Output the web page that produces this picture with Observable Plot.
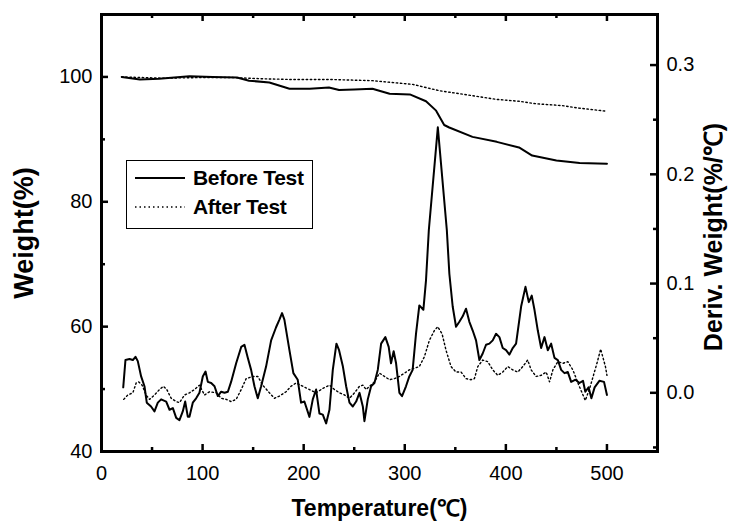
<!DOCTYPE html>
<html>
<head>
<meta charset="utf-8">
<script src="https://cdn.jsdelivr.net/npm/d3@7"></script>
<script src="https://cdn.jsdelivr.net/npm/@observablehq/plot@0.6"></script>
<style>
  body { margin: 0; background: #fff; }
  #wrap { position: relative; width: 731px; height: 528px; font-family: "Liberation Sans", Arial, sans-serif; }
  #legend { position: absolute; left: 126px; top: 160px; width: 187px; height: 69px; border: 1.5px solid #000; background: #fff; box-sizing: border-box; }
  #legend .row { position: absolute; left: 8px; display: flex; align-items: center; font-weight: bold; font-size: 21px; color: #000; letter-spacing: -0.3px; }
</style>
</head>
<body>
<div id="wrap">
  <div id="chart"></div>
  <div id="legend">
    <div class="row" style="top:5px"><svg width="58" height="10"><line x1="0" x2="50" y1="5" y2="5" stroke="#000" stroke-width="2"/></svg><span>Before Test</span></div>
    <div class="row" style="top:34px"><svg width="58" height="10"><line x1="0" x2="50" y1="5" y2="5" stroke="#000" stroke-width="1.5" stroke-dasharray="1.5,3"/></svg><span>After Test</span></div>
  </div>
</div>
<script>
// ---- data ----
const seriesNames = ["Before Test", "After Test"];

const beforeWeightT = [20,38,57,87,110,134,146,166,186,206,225,235,250,268,285,305,321,331,339,344,367,391,413,426,450,473,500];
const beforeWeight  = [100,99.6,99.7,100.1,100.0,99.9,99.4,99.1,98.1,98.1,98.3,97.9,98.0,98.1,97.3,97.2,96.1,94.6,92.3,91.9,90.4,89.6,88.7,87.4,86.6,86.2,86.1];

const afterWeightT = [20,60,100,130,160,186,225,268,308,334,367,391,413,430,456,470,500];
const afterWeight  = [100,99.8,99.9,99.9,99.7,99.6,99.6,99.4,98.8,97.8,97.0,96.4,96.1,95.7,95.4,95.05,94.5];

const beforeDerivT = [21.5,23.7,27.7,31,33.6,35.9,39.2,42.5,44.8,49,52.4,55.7,59,64,67.3,70.6,73.9,77.1,80.4,82.8,85.4,87,90.3,93.6,96.9,100.2,102.9,105.2,108.5,111.8,115.1,118.4,121.7,125,128.2,133.2,138.2,141.4,144.7,148,151.3,154.6,157.9,162.8,167.8,172.7,176,178.6,180.9,185.9,189.8,194.1,197.4,200.7,205.7,209,212.3,215.6,218.9,222.2,225.5,228.8,232.4,235,238.8,242,245.3,248.6,251.9,255.2,258.5,260.1,263.4,266.7,270,273.3,276.6,280.8,284.1,286.4,289,291.4,294.7,297.3,301.2,304.5,307.8,311.1,314.4,318.4,321,323.8,332.7,341.6,344.1,347.4,350.7,354,357.3,360.6,363.9,367.2,370.5,373.8,377.1,380.4,383.7,387,390.3,393.6,396.9,400.2,403.5,406.8,410.1,415.1,419.4,422.7,425.6,428.3,431.6,434.9,438.2,441.5,444.8,448.1,451.4,454.7,458,461.3,464.6,468.9,472.8,476.3,478.6,481.8,484.6,487.8,492.5,497.1,500];
const beforeDeriv  = [0.005,0.030,0.031,0.030,0.033,0.029,0.015,0.006,-0.009,-0.0125,-0.017,-0.009,-0.006,-0.008,-0.0155,-0.014,-0.023,-0.025,-0.017,-0.008,-0.022,-0.022,-0.009,-0.005,0.000,0.015,0.0195,0.010,0.009,0.006,-0.003,0.001,0.000,0.001,0.010,0.027,0.042,0.044,0.032,0.021,0.006,-0.005,0.006,0.024,0.048,0.060,0.067,0.073,0.067,0.039,0.018,0.012,-0.009,-0.008,-0.022,-0.006,0.003,-0.019,-0.020,-0.028,-0.0155,0.021,0.045,0.039,0.024,0.006,-0.009,-0.0125,-0.008,0.000,-0.0125,-0.026,-0.006,0.006,0.009,0.021,0.045,0.051,0.042,0.027,0.038,0.027,0.000,-0.003,0.006,0.015,0.021,0.054,0.080,0.076,0.103,0.149,0.243,0.149,0.109,0.079,0.0605,0.065,0.070,0.077,0.065,0.057,0.048,0.030,0.036,0.044,0.045,0.048,0.054,0.051,0.041,0.039,0.035,0.041,0.045,0.079,0.097,0.083,0.089,0.076,0.057,0.041,0.051,0.039,0.045,0.032,0.030,0.021,0.018,0.019,0.010,0.012,0.009,0.011,0.001,0.005,-0.005,0.005,0.011,0.010,-0.002];

const afterDerivT = [22,26,31,34.3,36.9,40.2,44.1,47.5,52.4,57.4,61.3,64.6,68.9,73.9,77.1,82.1,87,92,96.9,101.9,106.9,113.4,118.4,123.4,128.2,133.2,138.2,143.1,149.7,154.6,159.5,166.1,171.1,176,182.6,187.5,192.5,199.1,205.7,212.3,218.9,225.5,230.5,235.4,240.4,245.3,250.3,255.2,258.5,261.8,265.1,270,275,279.9,284.9,289.8,294.7,299.7,304.5,309.5,314.4,319.4,324.3,329.3,332.6,336.9,340.8,345.8,350.7,355.7,360.6,365.6,368.9,372.2,377.1,382.1,387,392,396.9,401.9,406.8,411.8,416.7,421.6,425,429.9,434.9,439.9,443.2,446.5,451.4,456.4,461.3,466.3,471.7,478.6,483.2,490.1,493.8,498.5,500];
const afterDeriv  = [-0.006,-0.002,0.000,0.009,0.010,0.007,-0.002,-0.006,-0.002,0.003,0.006,0.003,-0.005,-0.008,-0.009,-0.002,0.000,0.003,0.007,-0.002,0.001,0.000,-0.005,-0.006,-0.008,-0.006,0.003,0.013,0.015,0.015,0.007,0.000,-0.005,-0.003,0.001,0.006,0.009,0.006,0.003,0.000,0.004,0.007,0.003,0.000,-0.002,-0.005,0.000,0.006,0.007,0.003,0.006,0.010,0.018,0.015,0.012,0.013,0.015,0.018,0.021,0.0225,0.024,0.033,0.048,0.057,0.0605,0.054,0.039,0.024,0.019,0.019,0.013,0.012,0.013,0.024,0.030,0.0285,0.021,0.016,0.019,0.024,0.021,0.019,0.024,0.030,0.021,0.015,0.016,0.019,0.010,0.021,0.0285,0.027,0.0285,0.021,0.008,-0.007,0.005,0.027,0.040,0.024,0.016];

const xMajorTicks = [0,100,200,300,400,500];
const xMinorTicks = [50,150,250,350,450];
const yMajorTicks = [40,60,80,100];
const yMinorTicks = [50,70,90];
const derivMajorTicks = [0.0,0.1,0.2,0.3];
const derivMinorTicks = [-0.05,0.05,0.15,0.25];

// ---- layout ----
const W = 731, H = 528;
const mL = 101, mR = 74, mT = 14, mB = 77;
const pw = W - mL - mR, ph = H - mT - mB;
// map derivative (right axis) to weight (left axis) scale
const toLeft = d => 49.4 + 175 * d;
const fromLeft = v => (v - 49.4) / 175;

const rows = (T, V, f = v => v) => T.map((t, i) => ({t, v: f(V[i])}));

const chart = Plot.plot({
  width: W, height: H,
  marginLeft: mL, marginRight: mR, marginTop: mT, marginBottom: mB,
  style: {fontFamily: '"Liberation Sans", Arial, sans-serif', fontSize: "20px", color: "#000", background: "#fff"},
  x: {domain: [0, 550]},
  y: {domain: [40, 110]},
  marks: [
    // derivative curves
    Plot.line(rows(afterDerivT, afterDeriv, toLeft), {x: "t", y: "v", stroke: "#000", strokeWidth: 1.4, strokeDasharray: "1.5,2.6"}),
    Plot.line(rows(beforeDerivT, beforeDeriv, toLeft), {x: "t", y: "v", stroke: "#000", strokeWidth: 2}),
    // weight curves
    Plot.line(rows(afterWeightT, afterWeight), {x: "t", y: "v", stroke: "#000", strokeWidth: 1.4, strokeDasharray: "1.5,2.6"}),
    Plot.line(rows(beforeWeightT, beforeWeight), {x: "t", y: "v", stroke: "#000", strokeWidth: 2}),
    // inward ticks
    Plot.tickY(yMajorTicks, {y: d => d, insetRight: pw - 7, strokeWidth: 2.5}),
    Plot.tickY(yMinorTicks, {y: d => d, insetRight: pw - 4, strokeWidth: 2.5}),
    Plot.tickY(derivMajorTicks.map(toLeft), {y: d => d, insetLeft: pw - 7, strokeWidth: 2.5}),
    Plot.tickY(derivMinorTicks.map(toLeft), {y: d => d, insetLeft: pw - 4, strokeWidth: 2.5}),
    Plot.tickX(xMajorTicks, {x: d => d, insetTop: ph - 7, strokeWidth: 2.5}),
    Plot.tickX(xMinorTicks, {x: d => d, insetTop: ph - 4, strokeWidth: 2.5}),
    Plot.tickX(xMajorTicks, {x: d => d, insetBottom: ph - 7, strokeWidth: 2.5}),
    Plot.tickX(xMinorTicks, {x: d => d, insetBottom: ph - 4, strokeWidth: 2.5}),
    Plot.frame({stroke: "#000", strokeWidth: 3}),
    // tick labels
    Plot.axisX(xMajorTicks, {tickSize: 0, tickPadding: 14, label: null}),
    Plot.axisY(yMajorTicks, {anchor: "left", tickSize: 0, tickPadding: 9, label: null}),
    Plot.axisY(derivMajorTicks.map(toLeft), {anchor: "right", tickSize: 0, tickPadding: 9, label: null, tickFormat: v => fromLeft(v).toFixed(1)}),
    // axis titles
    Plot.text(["Temperature(℃)"], {text: d => d, frameAnchor: "bottom", lineAnchor: "middle", textAnchor: "middle", dy: 57, fontWeight: "bold", fontSize: 23}),
    Plot.text(["Weight(%)"], {text: d => d, frameAnchor: "left", lineAnchor: "middle", textAnchor: "middle", dx: -77, rotate: -90, fontWeight: "bold", fontSize: 27}),
    Plot.text(["Deriv. Weight(%/℃)"], {text: d => d, frameAnchor: "right", lineAnchor: "middle", textAnchor: "middle", dx: 56, dy: 4, rotate: -90, fontWeight: "bold", fontSize: 25})
  ]
});
document.getElementById("chart").appendChild(chart);
</script>
</body>
</html>
